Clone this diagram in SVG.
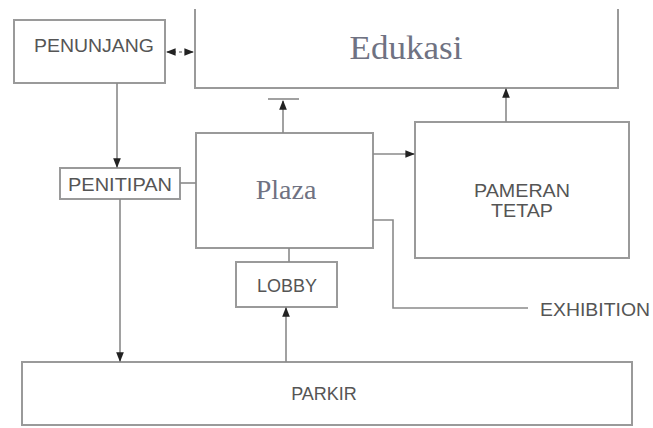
<svg xmlns="http://www.w3.org/2000/svg" width="653" height="428" viewBox="0 0 653 428">
<style>
.box{fill:#fff;stroke:#9a9a9a;stroke-width:2}
.ln{fill:none;stroke:#8a8a8a;stroke-width:1.6}
.cap{font-family:"Liberation Sans",Arial,sans-serif;font-size:18px;fill:#555;text-anchor:middle}
.ser{font-family:"Liberation Serif","Times New Roman",serif;fill:#6f7282;text-anchor:middle}
</style>
<defs>
<marker id="ah" viewBox="0 0 10 10" refX="9" refY="5" markerWidth="6" markerHeight="6" orient="auto-start-reverse">
<path d="M0,1 L10,5 L0,9 Z" fill="#222"/>
</marker>
</defs>
<rect width="653" height="428" fill="#fff"/>
<g id="edukasi">
<path class="box" d="M195,9 V88 H618 V9"/>
<text class="ser" x="406" y="59" font-size="34" textLength="113" lengthAdjust="spacingAndGlyphs">Edukasi</text>
</g>
<g id="penunjang">
<rect class="box" x="14" y="20" width="151" height="63"/>
<text class="cap" x="94" y="52" textLength="120" lengthAdjust="spacingAndGlyphs">PENUNJANG</text>
</g>
<g id="plaza">
<rect class="box" x="196" y="133" width="177" height="115"/>
<text class="ser" x="286" y="199" font-size="28">Plaza</text>
</g>
<g id="pameran">
<rect class="box" x="415" y="122" width="214" height="136"/>
<text class="cap" x="522" y="197" font-size="16" textLength="96" lengthAdjust="spacingAndGlyphs">PAMERAN</text>
<text class="cap" x="522" y="217" font-size="16" textLength="62" lengthAdjust="spacingAndGlyphs">TETAP</text>
</g>
<g id="penitipan">
<rect class="box" x="60" y="168" width="120" height="31"/>
<text class="cap" x="120" y="191" textLength="104" lengthAdjust="spacingAndGlyphs">PENITIPAN</text>
</g>
<g id="lobby">
<rect class="box" x="236" y="262" width="101" height="45"/>
<text class="cap" x="287" y="292">LOBBY</text>
</g>
<g id="parkir">
<rect class="box" x="22" y="362" width="610" height="63"/>
<text class="cap" x="324" y="400">PARKIR</text>
</g>
<g id="exhibition">
<text class="cap" x="595" y="316" textLength="110" lengthAdjust="spacingAndGlyphs">EXHIBITION</text>
</g>
<g id="connectors">
<line class="ln" x1="167" y1="52" x2="193" y2="52" stroke-dasharray="3,3" marker-start="url(#ah)" marker-end="url(#ah)"/>
<line class="ln" x1="283" y1="133" x2="283" y2="101" marker-end="url(#ah)"/>
<line class="ln" x1="268" y1="99" x2="299" y2="99"/>
<line class="ln" x1="373" y1="154" x2="414" y2="154" marker-end="url(#ah)"/>
<line class="ln" x1="506" y1="122" x2="506" y2="89" marker-end="url(#ah)"/>
<line class="ln" x1="117" y1="83" x2="117" y2="167" marker-end="url(#ah)"/>
<line class="ln" x1="120" y1="199" x2="120" y2="361" marker-end="url(#ah)"/>
<line class="ln" x1="180" y1="183" x2="196" y2="183"/>
<line class="ln" x1="289" y1="248" x2="289" y2="262"/>
<line class="ln" x1="286" y1="362" x2="286" y2="308" marker-end="url(#ah)"/>
<path class="ln" d="M373,220 H393 V308 H528"/>
</g>
</svg>
